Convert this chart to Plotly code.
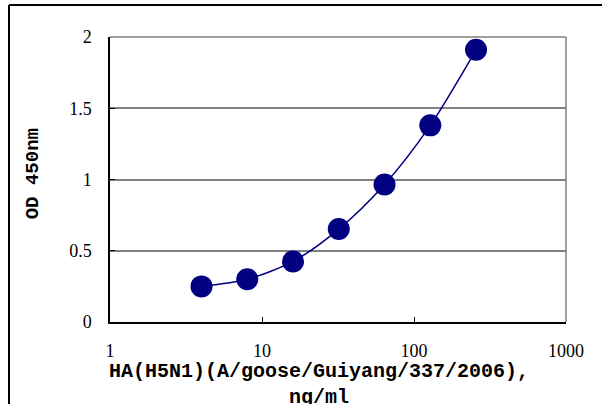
import plotly.graph_objects as go

concentration = [4, 8, 16, 32, 64, 128, 256]
od450 = [0.25, 0.30, 0.425, 0.652, 0.965, 1.38, 1.91]
y_ticks = [0, 0.5, 1, 1.5, 2]
y_tick_labels = ["0", "0.5", "1", "1.5", "2"]
x_ticks = [1, 10, 100, 1000]
x_tick_labels = ["1", "10", "100", "1000"]
x_title = "HA(H5N1)(A/goose/Guiyang/337/2006),<br>ng/ml"
y_title = "OD 450nm"

navy = "#000080"

fig = go.Figure()
fig.add_trace(go.Scatter(
    x=concentration, y=od450, mode="lines+markers",
    line=dict(color=navy, width=1.5, shape="spline", smoothing=0.8),
    marker=dict(color=navy, size=22, line=dict(width=0)),
    showlegend=False, cliponaxis=False,
))

tick_font = dict(family="Liberation Serif, DejaVu Serif, serif", size=18, color="#000")
title_font = dict(family="Liberation Mono, DejaVu Sans Mono, monospace", size=20, color="#000")
ytitle_font = dict(family="Liberation Mono, DejaVu Sans Mono, monospace", size=19, color="#000")

fig.update_layout(
    width=602, height=404,
    margin=dict(l=110, r=36, t=37, b=82),
    paper_bgcolor="white", plot_bgcolor="white",
    xaxis=dict(
        type="log", range=[0, 3], tickvals=x_ticks, ticktext=x_tick_labels,
        showgrid=False, zeroline=False, showline=True, linecolor="#000", linewidth=1.5,
        ticks="inside", ticklen=5, tickcolor="#000", tickwidth=1,
        tickfont=tick_font, ticklabelstandoff=12,
    ),
    yaxis=dict(
        range=[0, 2], tickvals=y_ticks, ticktext=y_tick_labels,
        showgrid=True, gridcolor="#808080", gridwidth=1.5,
        zeroline=False, showline=True, linecolor="#000", linewidth=1.5,
        ticks="inside", ticklen=5, tickcolor="#000", tickwidth=1,
        tickfont=tick_font, ticklabelstandoff=13,
    ),
    shapes=[
        dict(type="line", xref="paper", yref="paper", x0=1, x1=1, y0=0, y1=1,
             line=dict(color="#808080", width=1.5)),
        dict(type="line", xref="paper", yref="paper", x0=0, x1=1, y0=1, y1=1,
             line=dict(color="#808080", width=1.5)),
        dict(type="line", xref="paper", yref="paper", x0=-0.2215, x1=1.2, y0=1.1123, y1=1.1123,
             line=dict(color="#000", width=2)),
        dict(type="line", xref="paper", yref="paper", x0=-0.2215, x1=-0.2215, y0=1.1123, y1=-0.4,
             line=dict(color="#000", width=2)),
    ],
    annotations=[
        dict(text="<b>" + x_title + "</b>", xref="paper", yref="paper",
             x=0.458, y=-0.128, xanchor="center", yanchor="top", showarrow=False,
             font=title_font, align="center"),
        dict(text="<b>" + y_title + "</b>", xref="paper", yref="paper",
             x=-0.17, y=0.52, xanchor="center", yanchor="middle", showarrow=False,
             font=ytitle_font, textangle=-90),
    ],
)

fig.write_html("out.html", config={"displayModeBar": False},
               post_script="document.body.style.margin='0px';")
